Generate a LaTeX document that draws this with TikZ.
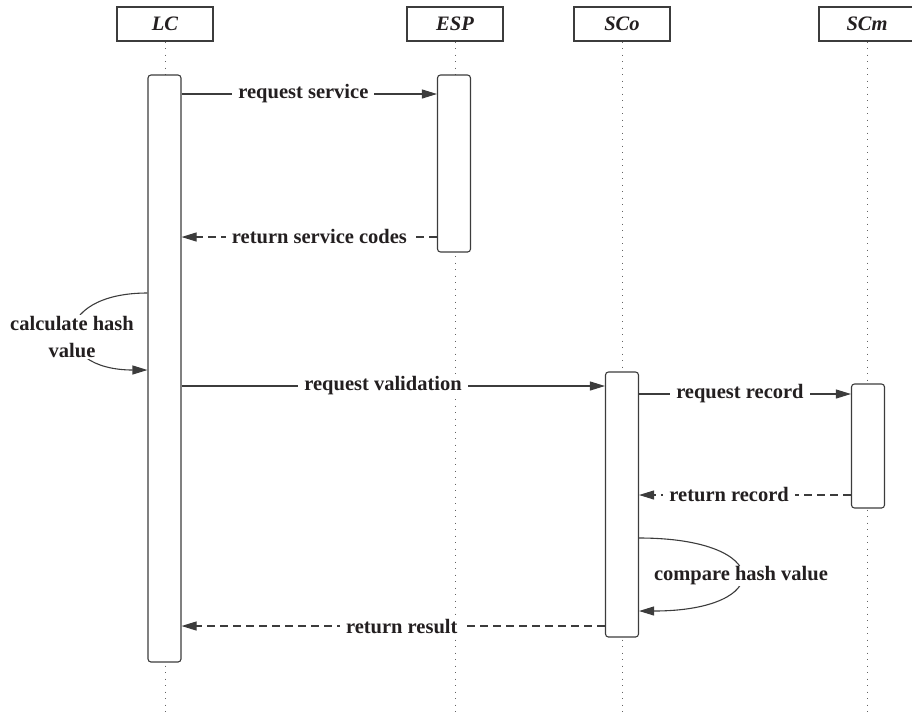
\documentclass[tikz,border=0pt]{standalone}
\usepackage{fontspec}
\setmainfont{Liberation Serif}
\usetikzlibrary{arrows.meta}
\definecolor{ln}{HTML}{3C3C3C}
\definecolor{tx}{HTML}{231F20}
\begin{document}
\begin{tikzpicture}[x=1pt,y=-1pt,
  every node/.style={text=tx},
  head/.style={draw=ln, line width=1.1pt, fill=white, minimum width=96pt, minimum height=34pt,
    inner sep=0pt, font=\fontsize{20.5}{24}\selectfont\bfseries\itshape},
  act/.style={draw=ln, line width=1.1pt, fill=white, rounded corners=3pt, minimum width=33pt, inner sep=0pt},
  life/.style={draw=ln!80, line width=0.9pt, dash pattern=on 1pt off 5.5pt},
  msg/.style={draw=ln, line width=1.1pt, -{Triangle[length=15pt,width=9pt]}},
  ret/.style={msg, dash pattern=on 8pt off 5pt},
  lbl/.style={fill=white, inner xsep=6pt, inner ysep=1pt, font=\fontsize{20.5}{27}\selectfont\bfseries}
]
\useasboundingbox (0,0) rectangle (912,716);
% headers
\node[head] (lc)  at (165,24) {LC};
\node[head] (esp) at (455,24) {ESP};
\node[head] (sco) at (622,24) {SCo};
\node[head] (scm) at (867,24) {SCm};
% lifelines
\draw[life] (lc.south)  -- (lc.south |- 0,716);
\draw[life] (esp.south) -- (esp.south |- 0,716);
\draw[life] (sco.south) -- (sco.south |- 0,716);
\draw[life] (scm.south) -- (scm.south |- 0,716);
% activations
\node[act, minimum height=587pt] (lcA)  at (164.5,368.5) {};
\node[act, minimum height=177pt] (espA) at (454,163.5) {};
\node[act, minimum height=265pt] (scoA) at (622,504.5) {};
\node[act, minimum height=124pt] (scmA) at (868,446) {};
% messages
\draw[msg] (lcA.east |- 0,94) -- node[lbl, pos=0.477] (m1) {request service} (espA.west |- 0,94);
\draw[ret] (espA.west |- 0,237) -- node[lbl, pos=0.46] (m2) {return service codes} (lcA.east |- 0,237);
\draw[msg] (lcA.west |- 0,293) .. controls (50,293) and (50,370) .. (lcA.west |- 0,370);
\node[lbl, align=center] (m3) at (72,337) {calculate hash\\value};
\draw[msg] (lcA.east |- 0,386) -- node[lbl, pos=0.476] (m4) {request validation} (scoA.west |- 0,386);
\draw[msg] (scoA.east |- 0,394) -- node[lbl, pos=0.476] (m5) {request record} (scmA.west |- 0,394);
\draw[ret] (scmA.west |- 0,495) -- node[lbl, pos=0.575] (m6) {return record} (scoA.east |- 0,495);
\draw[msg] (scoA.east |- 0,538) .. controls (775,538) and (775,611) .. (scoA.east |- 0,611);
\node[lbl] (m7) at (741,576) {compare hash value};
\draw[ret] (scoA.west |- 0,626) -- node[lbl, pos=0.48] (m8) {return result} (lcA.east |- 0,626);
\end{tikzpicture}
\end{document}
